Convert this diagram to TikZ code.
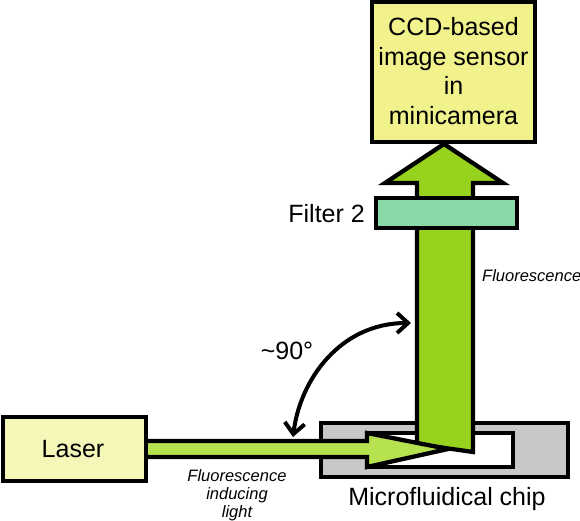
\documentclass[tikz,border=0pt]{standalone}
\usepackage{fontspec}
\setmainfont{Liberation Sans}
\usetikzlibrary{arrows.meta}
\definecolor{ccdfill}{RGB}{241,242,140}
\definecolor{laserfill}{RGB}{245,247,185}
\definecolor{beamv}{RGB}{150,210,30}
\definecolor{beamh}{RGB}{182,226,80}
\definecolor{filterfill}{RGB}{136,216,168}
\definecolor{chipfill}{RGB}{200,200,200}
\tikzset{
  boxline/.style={draw=black, line width=4.3pt, line join=miter},
  bigtext/.style={font=\fontsize{25}{29.5}\selectfont, inner sep=0pt},
  smalltext/.style={font=\fontsize{16.5}{18}\selectfont\itshape, inner sep=0pt},
  anglearrow/.style={line width=4pt, {Straight Barb[length=11pt,width=20pt]}-{Straight Barb[length=11pt,width=20pt]}}
}
\begin{document}
\begin{tikzpicture}[x=1pt,y=-1pt]
\useasboundingbox (0,0) rectangle (580,521);
% CCD box
\node[boxline, fill=ccdfill, minimum width=163pt, minimum height=140pt, inner sep=0pt] (ccd) at (453.5,72) {};
\node[bigtext, align=center] (ccdtext) at (453.5,71) {CCD-based\\image sensor\\in\\minicamera};
% chip
\node[boxline, fill=chipfill, minimum width=247pt, minimum height=54pt, inner sep=0pt] (chip) at (444.5,450) {};
\node[boxline, fill=white, minimum width=146pt, minimum height=34pt, inner sep=0pt] (channel) at (440,450) {};
% vertical fluorescence arrow
\draw[boxline, fill=beamv] (417,444) -- (417,183) -- (385,183) -- (444,144) -- (503,183) -- (473,183) -- (473,452) -- cycle;
% filter 2
\node[boxline, fill=filterfill, minimum width=141pt, minimum height=30pt, inner sep=0pt] (filter) at (446.5,213) {};
\node[bigtext, anchor=east] (filtertext) at (365,214) {Filter 2};
% laser box
\node[boxline, fill=laserfill, minimum width=143pt, minimum height=64pt, inner sep=0pt] (laser) at (74.5,449) {};
\node[bigtext] (lasertext) at (73,449) {Laser};
% horizontal exciting arrow
\draw[boxline, fill=beamh] (laser.east |- 0,441) -- (367,441) -- (367,433) -- (448,449) -- (367,467) -- (367,457) -- (laser.east |- 0,457);
% labels
\node[smalltext, align=center] (exclabel) at (237,495) {Fluorescence\\inducing\\light};
\node[smalltext, anchor=west] (fluolabel) at (482,276) {Fluorescence};
\node[bigtext] (chiplabel) at (447,499) {Microfluidical chip};
\node[bigtext] (anglelabel) at (287,351) {\textasciitilde 90\textdegree};
% angle arrow
\coordinate (a1) at (293,437);
\coordinate (a2) at (411,323);
\draw[anglearrow] (a1) .. controls (300,380) and (340,323) .. (a2);
\end{tikzpicture}
\end{document}
